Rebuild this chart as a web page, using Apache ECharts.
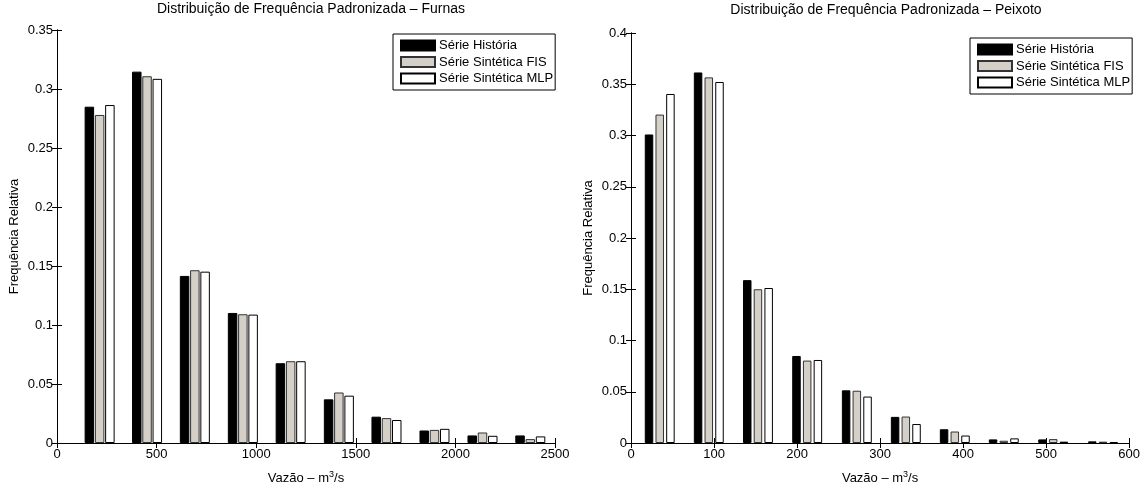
<!DOCTYPE html>
<html>
<head>
<meta charset="utf-8">
<script src="https://cdn.jsdelivr.net/npm/echarts@6/dist/echarts.min.js"></script>
<style>
html,body{margin:0;padding:0;background:#fff;}
#c{width:1143px;height:490px;}
</style>
</head>
<body>
<div id="c"></div>
<script>
// ---- Data ----
const seriesNames = ['Série História', 'Série Sintética FIS', 'Série Sintética MLP'];

const furnasX    = [214, 452, 692, 933, 1173, 1415, 1654, 1895, 2136, 2376];
const furnasHist = [0.285, 0.3147, 0.1416, 0.1102, 0.0676, 0.0370, 0.0223, 0.0106, 0.0064, 0.0064];
const furnasFIS  = [0.278, 0.3108, 0.1464, 0.1091, 0.0693, 0.0428, 0.0211, 0.0111, 0.0089, 0.0033];
const furnasMLP  = [0.2864, 0.3086, 0.1452, 0.1088, 0.0693, 0.0401, 0.0195, 0.0120, 0.0061, 0.0056];

const peixotoX    = [34.6, 93.7, 152.9, 212.2, 272, 331, 390, 449, 508.5, 568.5];
const peixotoHist = [0.301, 0.3615, 0.1589, 0.0849, 0.0514, 0.0255, 0.0134, 0.0035, 0.0035, 0.0016];
const peixotoFIS  = [0.3204, 0.3567, 0.1500, 0.0804, 0.0510, 0.0258, 0.0112, 0.0022, 0.0038, 0.0013];
const peixotoMLP  = [0.3405, 0.3522, 0.1512, 0.0810, 0.0453, 0.0185, 0.0073, 0.0045, 0.0013, 0.0010];

const titles = ['Distribuição de Frequência Padronizada – Furnas', 'Distribuição de Frequência Padronizada – Peixoto'];
const xName = 'Vazão – m';
const yName = 'Frequência Relativa';

// ---- Chart ----
const FONT = 'Liberation Sans, Arial, Helvetica, sans-serif';
const fills = ['#000000', '#d4d0c8', '#ffffff'];
const borders = ['#000000', '#333333', '#000000'];

const chart = echarts.init(document.getElementById('c'), null, {renderer: 'canvas'});

function pairs(xs, ys) { return xs.map((x, i) => [x, ys[i]]); }

const grids = [
  {left: 57, right: 588, top: 30, bottom: 41},
  {left: 631, right: 12, top: 33, bottom: 39}
];

const axisLineStyle = {show: true, lineStyle: {color: '#000', width: 1}};
const tickStyle = {show: true, inside: true, length: 5, lineStyle: {color: '#000', width: 1}};
const labelStyle = {color: '#000', fontFamily: FONT, fontSize: 13};

const xCfg = [{max: 2500, interval: 500}, {max: 600, interval: 100}];
const yCfg = [{max: 0.35, interval: 0.05}, {max: 0.4, interval: 0.05}];

const xAxes = [], yAxes = [];
for (let g = 0; g < 2; g++) {
  xAxes.push({
    type: 'value', gridIndex: g, position: 'bottom', min: 0, max: xCfg[g].max, interval: xCfg[g].interval,
    axisLine: axisLineStyle, axisTick: tickStyle, splitLine: {show: false},
    axisLabel: Object.assign({margin: 5, formatter: v => String(v)}, labelStyle),
    name: '{n|' + xName + '}{sup|3}{n|/s}', nameLocation: 'middle', nameGap: 27,
    nameTextStyle: {fontFamily: FONT, color: '#000', rich: {
      n: {fontFamily: FONT, fontSize: 13, color: '#000', verticalAlign: 'bottom'},
      sup: {fontFamily: FONT, fontSize: 9, color: '#000', verticalAlign: 'top', padding: [0, 0, 6, 0]}
    }}
  });
  xAxes.push({
    type: 'value', gridIndex: g, position: 'top', min: 0, max: xCfg[g].max, interval: xCfg[g].interval,
    axisLine: axisLineStyle, axisTick: tickStyle, splitLine: {show: false}, axisLabel: {show: false}
  });
  yAxes.push({
    type: 'value', gridIndex: g, position: 'left', min: 0, max: yCfg[g].max, interval: yCfg[g].interval,
    axisLine: axisLineStyle, axisTick: tickStyle, splitLine: {show: false},
    axisLabel: Object.assign({margin: 4, formatter: v => String(+v.toFixed(2))}, labelStyle),
    name: yName, nameLocation: 'middle', nameGap: 36, nameRotate: 90,
    nameTextStyle: {fontFamily: FONT, fontSize: 13, color: '#000'}
  });
  yAxes.push({
    type: 'value', gridIndex: g, position: 'right', min: 0, max: yCfg[g].max, interval: yCfg[g].interval,
    axisLine: axisLineStyle, axisTick: tickStyle, splitLine: {show: false}, axisLabel: {show: false}
  });
}

const data = [
  [pairs(furnasX, furnasHist), pairs(furnasX, furnasFIS), pairs(furnasX, furnasMLP)],
  [pairs(peixotoX, peixotoHist), pairs(peixotoX, peixotoFIS), pairs(peixotoX, peixotoMLP)]
];
const barW = [9.5, 8.5];
const barGap = ['8%', '26%'];

const series = [];
for (let g = 0; g < 2; g++) {
  for (let s = 0; s < 3; s++) {
    series.push({
      type: 'bar', name: seriesNames[s], xAxisIndex: g * 2, yAxisIndex: g * 2,
      data: data[g][s], barWidth: barW[g], barGap: barGap[g],
      itemStyle: {color: fills[s], borderColor: borders[s], borderWidth: 1},
      emphasis: {disabled: true}, animation: false
    });
  }
}

const legendBase = {
  orient: 'vertical', data: seriesNames, icon: 'rect', itemWidth: 34, itemHeight: 10, itemGap: 1.5,
  borderColor: '#000', borderWidth: 1, backgroundColor: '#fff', selectedMode: false,
  textStyle: {fontFamily: FONT, fontSize: 13, lineHeight: 15, color: '#000', padding: [0, 0, 0, -1]},
  padding: [4, 2, 4, 7]
};

chart.setOption({
  animation: false,
  backgroundColor: '#fff',
  title: [
    {text: titles[0], left: 306, top: -3, textAlign: 'center', textStyle: {fontFamily: FONT, fontSize: 14, fontWeight: 'normal', color: '#000'}},
    {text: titles[1], left: 881, top: -2, textAlign: 'center', textStyle: {fontFamily: FONT, fontSize: 14, fontWeight: 'normal', color: '#000'}}
  ],
  grid: grids,
  xAxis: xAxes,
  yAxis: yAxes,
  legend: [
    Object.assign({}, legendBase, {left: 393, top: 34}),
    Object.assign({}, legendBase, {left: 970, top: 38})
  ],
  series: series
});
</script>
</body>
</html>
